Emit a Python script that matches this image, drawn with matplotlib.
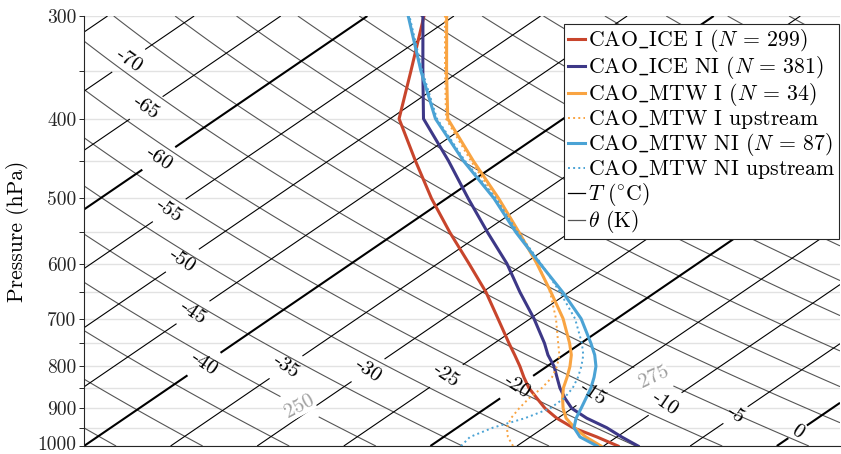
import numpy as np
import matplotlib
matplotlib.use("Agg")
import matplotlib.pyplot as plt
import matplotlib.transforms as mtransforms
from matplotlib.lines import Line2D
from matplotlib.ticker import NullLocator

plt.rcParams["font.family"] = "serif"
plt.rcParams["font.serif"] = ["cmr10"]
plt.rcParams["mathtext.fontset"] = "cm"
plt.rcParams["axes.unicode_minus"] = False
plt.rcParams["axes.formatter.use_mathtext"] = True
plt.rcParams["contour.negative_linestyle"] = "solid"

# skew-T geometry
SKEW = 30.2      # degC shift per ln(1000/p)
KAPPA = 0.2857
XLIM = (-40, 3.65)

# mean profiles (degC) on pressure levels (hPa)
pressure = [1000, 975, 950, 925, 900, 875, 850, 825, 800, 775,
            750, 700, 650, 600, 550, 500, 450, 400, 350, 300]

t_ice_i = [-9.17, -11.15, -13.32, -15.06, -16.56, -17.88, -19.22, -20.41, -21.57, -22.83,
           -24.15, -26.87, -29.80, -33.20, -36.93, -40.87, -44.98, -49.48, -52.83, -56.73]
t_ice_ni = [-8.01, -9.72, -11.37, -13.33, -15.02, -16.26, -17.43, -18.50, -19.60, -20.91,
            -22.10, -24.79, -27.84, -31.01, -34.75, -38.75, -43.07, -48.07, -52.14, -56.79]
t_mtw_i = [-10.15, -11.79, -13.23, -14.52, -15.52, -16.40, -17.23, -17.92, -18.68, -19.56,
           -20.65, -23.11, -26.05, -29.28, -32.93, -36.99, -41.64, -46.67, -50.77, -55.42]
t_mtw_i_up = [-15.23, -16.29, -17.13, -17.70, -18.06, -18.34, -18.47, -18.79, -19.43, -20.25,
              -21.31, -23.52, -26.10, -29.22, -33.00, -37.14, -41.78, -46.77, -50.86, -55.52]
t_mtw_ni = [-10.38, -12.13, -13.26, -13.94, -14.48, -15.05, -15.64, -16.36, -17.18, -18.21,
            -19.42, -22.07, -25.37, -29.10, -33.11, -37.26, -42.21, -47.38, -52.25, -57.64]
t_mtw_ni_up = [-18.23, -18.48, -17.94, -16.89, -16.27, -16.32, -16.69, -17.29, -18.02, -18.87,
               -19.94, -22.42, -25.53, -29.04, -33.00, -37.14, -42.12, -47.29, -52.17, -57.57]

US = r"$\mathtt{\_}$"
series = [
    (t_ice_i, f"CAO{US}ICE I ($N$ = 299)", "#c8452c", "-"),
    (t_ice_ni, f"CAO{US}ICE NI ($N$ = 381)", "#3d3887", "-"),
    (t_mtw_i, f"CAO{US}MTW I ($N$ = 34)", "#f9a442", "-"),
    (t_mtw_i_up, f"CAO{US}MTW I upstream", "#f9a442", ":"),
    (t_mtw_ni, f"CAO{US}MTW NI ($N$ = 87)", "#4ba3d5", "-"),
    (t_mtw_ni_up, f"CAO{US}MTW NI upstream", "#4ba3d5", ":"),
]

# contour label placement (level, pressure)
t_label_levels = [-70, -65, -60, -55, -50, -45, -40, -35, -30, -25, -20, -15, -10, -5, 0]
t_label_p = [340, 388, 447, 517, 595, 688, 795, 802, 809, 822, 848, 865, 889, 917, 961]
th_label_levels = [250, 275]
th_label_p = [896, 824]


def skew(t, p):
    return np.asarray(t) + SKEW * np.log(1000.0 / np.asarray(p))


fig = plt.figure(figsize=(8.41, 4.54), dpi=100)
ax = fig.add_axes([84 / 841, 8 / 454, 756 / 841, 430 / 454])
ax.set_yscale("log")

xg = np.linspace(XLIM[0], XLIM[1], 400)
pg = np.geomspace(300, 1000, 400)
X, P = np.meshgrid(xg, pg)
T = X - SKEW * np.log(1000.0 / P)
TH = (T + 273.15) * (1000.0 / P) ** KAPPA

fmt = lambda v: f"{v:.0f}"

# isentropes: unlabeled ones, then the two labeled ones
th_plain = [lv for lv in np.arange(200, 365, 5) if lv not in th_label_levels]
ax.contour(X, P, TH, levels=th_plain, colors="#555555", linewidths=0.8,
           linestyles="solid", zorder=2)
cs_thl = ax.contour(X, P, TH, levels=th_label_levels, colors="#555555",
                    linewidths=0.8, linestyles="solid", zorder=2)
th_t = [th * (p / 1000.0) ** KAPPA - 273.15 for th, p in zip(th_label_levels, th_label_p)]
th_pos = list(zip(skew(th_t, th_label_p), th_label_p))
th_txt = ax.clabel(cs_thl, manual=th_pos, inline=True, fmt=fmt,
                   fontsize=15, colors="#a0a0a0", inline_spacing=6)
for t in th_txt:
    t.set_bbox(dict(facecolor="white", edgecolor="none", pad=0))

# isotherms: thick every 20 degC
t_plain = [lv for lv in range(-95, 10, 5) if lv not in t_label_levels]
ax.contour(X, P, T, levels=t_plain, colors="k", linestyles="solid",
           linewidths=[1.5 if lv % 20 == 0 else 0.8 for lv in t_plain], zorder=2.1)
cs_tl = ax.contour(X, P, T, levels=t_label_levels, colors="k", linestyles="solid",
                   linewidths=[1.5 if lv % 20 == 0 else 0.8 for lv in t_label_levels],
                   zorder=2.1)
t_pos = list(zip(skew(t_label_levels, t_label_p), t_label_p))
ax.clabel(cs_tl, manual=t_pos, inline=True, fmt=fmt, fontsize=15, inline_spacing=6)

handles = []
for temps, label, color, ls in series:
    lw = 2.2 if ls == "-" else 1.4
    h, = ax.plot(skew(temps, pressure), pressure, color=color, ls=ls,
                 lw=lw, label=label, zorder=3)
    handles.append(h)
handles.append(Line2D([], [], color="k", lw=0.9, label=r"$T\ (^{\circ}\mathrm{C})$"))
handles.append(Line2D([], [], color="#555555", lw=0.9, label=r"$\theta$ (K)"))

ax.set_xlim(*XLIM)
ax.set_ylim(1000, 300)
ticks = np.arange(300, 1001, 50)
ax.set_yticks(ticks)
ax.set_yticklabels([str(t) if t % 100 == 0 else "" for t in ticks])
ax.yaxis.set_minor_locator(NullLocator())
ax.set_xticks([])
ax.tick_params(axis="y", direction="out", length=3.5, width=0.7,
               colors="#262626", labelsize=14, pad=2)
# keep the bottom label inside the canvas
last = ax.get_yticklabels()[-1]
last.set_transform(last.get_transform() +
                   mtransforms.ScaledTranslation(0, 2 / 72, fig.dpi_scale_trans))
ax.yaxis.grid(True, color="#e2e2e2", lw=1.0, zorder=0)
ax.set_axisbelow(True)
for s in ["top", "right"]:
    ax.spines[s].set_visible(False)
for s in ["left", "bottom"]:
    ax.spines[s].set_color("#262626")
    ax.spines[s].set_linewidth(0.8)
ax.set_ylabel("Pressure (hPa)", fontsize=15.5, labelpad=6)

leg = ax.legend(handles=handles, loc="upper right",
                bbox_to_anchor=(839 / 841, 430 / 454), bbox_transform=fig.transFigure,
                borderaxespad=0, fontsize=15.7, handlelength=0.8, handletextpad=0.15,
                labelspacing=0.0, borderpad=0.15, fancybox=False, framealpha=1)
leg.get_frame().set_edgecolor("#262626")
leg.get_frame().set_linewidth(0.8)
leg.set_zorder(5)

fig.savefig("out.png", dpi=100)
